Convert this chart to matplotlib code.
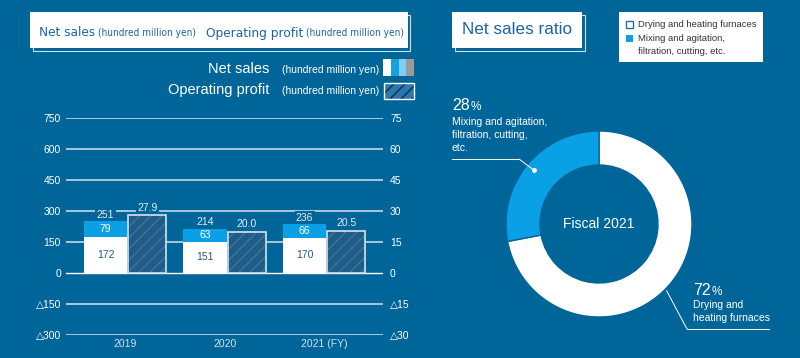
import matplotlib
matplotlib.use('Agg')
import matplotlib.pyplot as plt
from matplotlib.patches import Rectangle
from matplotlib.lines import Line2D
from matplotlib import font_manager
import numpy as np

# data
years = ['2019', '2020', '2021 (FY)']
drying = [172, 151, 170]
mixing = [79, 63, 66]
net_sales = [251, 214, 236]
op_profit = [27.9, 20.0, 20.5]
sales_ticks = [-300, -150, 0, 150, 300, 450, 600, 750]
profit_ticks = [-30, -15, 0, 15, 30, 45, 60, 75]
ratio = [72, 28]
ratio_names = ['Drying and\nheating furnaces', 'Mixing and agitation,\nfiltration, cutting,\netc.']

BG = '#006699'
BLUE = '#0aa0e6'
GRID = '#a8c6da'
TITLE = '#1b64a5'
W, H = 800, 358

plt.rcParams['font.family'] = ['Liberation Sans', 'DejaVu Sans']

# condensed face for the title box, if one is around
fonts = font_manager.fontManager.ttflist
names = {f.name for f in fonts}
if 'Liberation Sans Narrow' in names:
    NARROW = dict(family='Liberation Sans Narrow')
elif any(f.name == 'DejaVu Sans' and f.stretch == 'condensed' for f in fonts):
    NARROW = dict(family='DejaVu Sans', fontstretch='condensed')
else:
    NARROW = dict(family='Liberation Sans')


def fx(x):
    return x / W


def fy(y):
    return 1 - y / H


def tri(v):
    return '\u25b3%d' % -v if v < 0 else '%d' % v


fig = plt.figure(figsize=(8, 3.58), dpi=100, facecolor=BG)
renderer = fig.canvas.get_renderer()


def run_text(x0, yb, pieces, right=None, **kw):
    # pieces: (text, size, gap_after); laid out left to right, shrunk to end at `right`
    def place(scale):
        xs = x0
        arts = []
        for s, size, gap in pieces:
            t = fig.text(fx(xs), fy(yb), s, fontsize=size * scale, va='baseline', **kw)
            w = t.get_window_extent(renderer).width
            arts.append(t)
            xs += w + gap
        return arts, xs - gap
    arts, end = place(1.0)
    if right is not None and end > right:
        total = end - x0 - sum(p[2] for p in pieces[:-1])
        scale = (right - x0 - sum(p[2] for p in pieces[:-1])) / total
        for a in arts:
            a.remove()
        arts, end = place(scale)
    return arts


# ---- bar chart ----
ax = fig.add_axes([fx(66), fy(335), 317 / W, 217 / H])
ax.set_facecolor('none')
ax2 = ax.twinx()
x = np.arange(len(years))

for t in sales_ticks:
    if t == 0:
        ax.axhline(t, color='white', lw=1.0, zorder=0.5)
    else:
        ax.axhline(t, color=GRID, lw=1.4, zorder=0.5)

ax.bar(x - 0.42, drying, width=0.44, align='edge', color='white', zorder=2)
ax.bar(x - 0.42, mixing, bottom=drying, width=0.44, align='edge', color=BLUE, zorder=2)
ax2.bar(x + 0.03, op_profit, width=0.38, align='edge', color='#215c86',
        edgecolor='#3a75a0', hatch='///', lw=0, zorder=2)
ax2.bar(x + 0.03, op_profit, width=0.38, align='edge', fill=False,
        edgecolor='#d3e3ee', lw=1.2, zorder=3)

ax.set_xlim(-0.598, 2.588)
ax.set_ylim(-300, 750)
ax2.set_ylim(-30, 75)
ax.set_yticks(sales_ticks)
ax.set_yticklabels([tri(t) for t in sales_ticks])
ax2.set_yticks(profit_ticks)
ax2.set_yticklabels([tri(t) for t in profit_ticks])
ax.set_xticks(x)
ax.set_xticklabels(years)
ax.tick_params(axis='y', length=0, pad=3.6, labelsize=7.5, labelcolor='white')
ax2.tick_params(axis='y', length=0, pad=5, labelsize=7.5, labelcolor='white')
ax.tick_params(axis='x', length=0, pad=3, labelsize=7.5, labelcolor='#d4e0e8')
for a in (ax, ax2):
    for s in a.spines.values():
        s.set_visible(False)

for i in range(len(years)):
    ax.text(x[i] - 0.2, drying[i] / 2, str(drying[i]), ha='center', va='center',
            fontsize=7.5, color='#1d5a87', zorder=4)
    ax.text(x[i] - 0.2, drying[i] + mixing[i] / 2, str(mixing[i]), ha='center',
            va='center', fontsize=7.5, color='white', zorder=4)
    ax.annotate(str(net_sales[i]), (x[i] - 0.2, net_sales[i]), xytext=(0, 1),
                textcoords='offset points', ha='center', va='bottom', fontsize=7.5,
                color='#e4ecf2', zorder=4,
                bbox=dict(fc=BG, ec='none', pad=1))
    ax2.annotate('%.1f' % op_profit[i], (x[i] + 0.22, op_profit[i]), xytext=(0, 2),
                 textcoords='offset points', ha='center', va='bottom', fontsize=7.5,
                 color='#e4ecf2', zorder=4,
                 bbox=dict(fc=BG, ec='none', pad=1))


# ---- title boxes ----
def title_box(x0, y0, x1, y1):
    fig.add_artist(Rectangle((fx(x0 + 2.5), fy(y1 + 2.5)), (x1 - x0) / W, (y1 - y0) / H,
                             transform=fig.transFigure, fc='none', ec='#cfe0ea', lw=0.8))
    fig.add_artist(Rectangle((fx(x0), fy(y1)), (x1 - x0) / W, (y1 - y0) / H,
                             transform=fig.transFigure, fc='white', ec='none'))


title_box(30, 12, 408, 48)
run_text(39, 36.5, [('Net sales', 11.5, 3), ('(hundred million yen)', 8.5, 10),
                    ('Operating profit', 11.5, 3), ('(hundred million yen)', 8.5, 0)],
         right=402, color=TITLE, **NARROW)

# legend for bar chart
for yb, name in [(73, 'Net sales'), (94, 'Operating profit')]:
    fig.text(fx(379), fy(yb), '(hundred million yen)', fontsize=7.5, color='white',
             ha='right', va='baseline')
    fig.text(fx(269), fy(yb), name, fontsize=10.5, color='white', ha='right', va='baseline')

sw_colors = ['white', '#1aa0e0', '#7ccff2', '#9a9a9a']
for k, c in enumerate(sw_colors):
    fig.add_artist(Rectangle((fx(383 + k * 7.75), fy(76)), 7.75 / W, 17 / H,
                             transform=fig.transFigure, fc=c, ec='none'))
fig.add_artist(Rectangle((fx(383.5), fy(98.5)), 30.5 / W, 16 / H, transform=fig.transFigure,
                         fc='#2a78ae', ec='#112c44', hatch='///', lw=0))
fig.add_artist(Rectangle((fx(383.5), fy(98.5)), 30.5 / W, 16 / H, transform=fig.transFigure,
                         fill=False, ec='white', lw=1.0))

# ---- donut ----
title_box(452, 12, 582, 48)
fig.text(fx(517), fy(30), 'Net sales ratio', fontsize=12.3, color=TITLE, ha='center', va='center')

fig.add_artist(Rectangle((fx(619), fy(62)), 144 / W, 50 / H, transform=fig.transFigure,
                         fc='white', ec='none'))
fig.add_artist(Rectangle((fx(626), fy(28)), 7 / W, 7 / H, transform=fig.transFigure,
                         fc='white', ec='#2c6f9c', lw=1))
fig.add_artist(Rectangle((fx(626), fy(42)), 7 / W, 7 / H, transform=fig.transFigure,
                         fc=BLUE, ec='none'))
fig.text(fx(638), fy(24.5), 'Drying and heating furnaces', fontsize=6.8, color='#333333', va='center')
fig.text(fx(638), fy(38.5), 'Mixing and agitation,', fontsize=6.8, color='#333333', va='center')
fig.text(fx(638), fy(52), 'filtration, cutting, etc.', fontsize=6.8, color='#333333', va='center')

R = 93
axp = fig.add_axes([fx(599 - R), fy(224 + R), 2 * R / W, 2 * R / H])
axp.pie(ratio, colors=['white', BLUE], startangle=90, counterclock=False,
        wedgeprops=dict(width=34 / R, edgecolor=BG, linewidth=1))
axp.set_xlim(-1, 1)
axp.set_ylim(-1, 1)
axp.text(0, 0, 'Fiscal 2021', ha='center', va='center', fontsize=10, color='white')

# leader for mixing segment
ang = np.deg2rad(90 - ratio[0] * 3.6 - ratio[1] * 1.8)
dot = (0.91 * np.cos(ang), 0.91 * np.sin(ang))
axp.plot(*dot, 'o', color='white', ms=2.5, clip_on=False)
fig.add_artist(Line2D([fx(452), fx(519)], [fy(159), fy(159)], color='white', lw=0.7,
                      transform=fig.transFigure))
axp.annotate('', xy=dot, xytext=(519, H - 159), textcoords='figure pixels',
             arrowprops=dict(arrowstyle='-', color='white', lw=0.7, shrinkA=0, shrinkB=0))
run_text(452, 110, [('%d' % ratio[1], 11.5, 0.5), ('%', 8.5, 0)], color='white')
fig.text(fx(452), fy(117), ratio_names[1], fontsize=7.5, color='white', va='top', linespacing=1.35)

# leader for drying segment
ang = np.deg2rad(90 - ratio[0] * 1.8 - 5)
edge = (1.02 * np.cos(ang), 1.02 * np.sin(ang))
fig.add_artist(Line2D([fx(687), fx(769)], [fy(329), fy(329)], color='white', lw=0.7,
                      transform=fig.transFigure))
axp.annotate('', xy=edge, xytext=(687, H - 329), textcoords='figure pixels',
             arrowprops=dict(arrowstyle='-', color='white', lw=0.7, shrinkA=0, shrinkB=0))
run_text(693, 295, [('%d' % ratio[0], 11.5, 0.5), ('%', 8.5, 0)], color='white')
fig.text(fx(693), fy(300), ratio_names[0], fontsize=7.5, color='white', va='top', linespacing=1.35)

fig.savefig('out.png', dpi=100, facecolor=BG)
